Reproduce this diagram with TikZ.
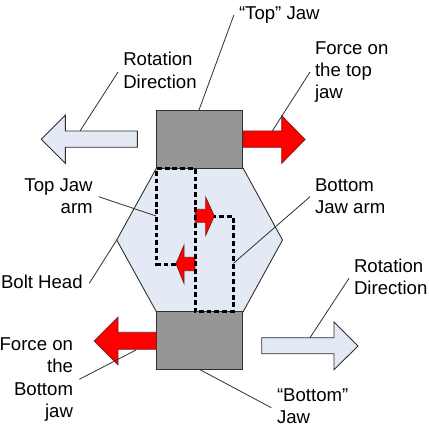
\documentclass[tikz,border=0pt]{standalone}
\usepackage{fontspec}
\setmainfont{Liberation Sans}
\definecolor{jawgray}{HTML}{969696}
\definecolor{paleblue}{HTML}{E3EAF6}
\definecolor{edge}{HTML}{303030}
\tikzset{
  jawbox/.style={draw=edge,line width=1pt,fill=jawgray,minimum width=86.4pt,minimum height=58pt,inner sep=0pt},
  hexshape/.style={draw=edge,line width=0.9pt,fill=paleblue},
  forcearrow/.style={draw=edge!60!red,line width=0.8pt,fill=red},
  rotarrow/.style={draw=edge,line width=0.9pt,fill=paleblue},
  armline/.style={draw=black,line width=3pt,dash pattern=on 4.8pt off 2.9pt},
  leader/.style={draw=edge,line width=0.8pt},
  lab/.style={inner sep=0pt,outer sep=0pt,font=\fontsize{18.6pt}{22pt}\selectfont,anchor=base west},
  labr/.style={lab,anchor=base east}
}
\begin{document}
\begin{tikzpicture}[x=1pt,y=-1pt]
\useasboundingbox (0,0) rectangle (428,430);
\fill[white] (0,0) rectangle (428,430);
% hexagon
\draw[hexshape] (156.5,168) -- (243,168) -- (282.5,240) -- (243,312) -- (156.5,312) -- (116.7,240) -- cycle;
% jaws
\node[jawbox] (topjaw) at (199.6,139.2) {};
\node[jawbox] (botjaw) at (199.6,340.8) {};
% red arrows
\draw[forcearrow] (243,131) -- (281.7,131) -- (281.7,115.7) -- (305,139.5) -- (281.7,163.3) -- (281.7,147.3) -- (243,147.3) -- cycle;
\draw[forcearrow] (156.3,332.3) -- (118,332.3) -- (118,317.3) -- (94.3,341) -- (118,364.7) -- (118,349.3) -- (156.3,349.3) -- cycle;
\draw[forcearrow] (195,209.3) -- (205.7,209.3) -- (205.7,197.3) -- (214.3,216) -- (205.7,235.3) -- (205.7,222.3) -- (195,222.3) -- cycle;
\draw[forcearrow] (195,257.3) -- (184,257.3) -- (184,245.3) -- (176,263.7) -- (184,283.3) -- (184,270.7) -- (195,270.7) -- cycle;
% rotation arrows
\draw[rotarrow] (137.3,131) -- (65.3,131) -- (65.3,115.3) -- (41.3,139.3) -- (65.3,163.3) -- (65.3,147.3) -- (137.3,147.3) -- cycle;
\draw[rotarrow] (261.7,337.7) -- (334,337.7) -- (334,322) -- (358,346) -- (334,369.7) -- (334,353.7) -- (261.7,353.7) -- cycle;
% dashed jaw arms
\draw[armline] (176,264) -- (156.5,264) -- (156.5,168.5) -- (195,168.5) -- (195,311.5) -- (233,311.5) -- (233,216) -- (214.3,216);
% labels
\node[lab] (ltop) at (239,20) {“Top” Jaw};
\node[lab] (lrot1a) at (123.3,66) {Rotation};
\node[lab] (lrot1b) at (123.3,88.3) {Direction};
\node[lab] (lfta) at (315,55) {Force on};
\node[lab] (lftb) at (315,77) {the top};
\node[lab] (lftc) at (315,99) {jaw};
\node[labr] (ltaa) at (92.7,191) {Top Jaw};
\node[labr] (ltab) at (92.7,213) {arm};
\node[lab] (lbaa) at (315,191) {Bottom};
\node[lab] (lbab) at (315,213) {Jaw arm};
\node[labr] (lbolt) at (82.7,288) {Bolt Head};
\node[lab] (lrot2a) at (354,272) {Rotation};
\node[lab] (lrot2b) at (354,294) {Direction};
\node[labr] (lfba) at (73,350.7) {Force on};
\node[labr] (lfbb) at (73,372.7) {the};
\node[labr] (lfbc) at (73,395.3) {Bottom};
\node[labr] (lfbd) at (73,417) {jaw};
\node[lab] (lbja) at (277,401.7) {“Bottom”};
\node[lab] (lbjb) at (277,423.7) {Jaw};
% leader ends
\coordinate (c1a) at (199,110); \coordinate (c1b) at (234,14.7);
\coordinate (c2a) at (80,131); \coordinate (c2b) at (118,72);
\coordinate (c3a) at (272.3,131); \coordinate (c3b) at (310,72);
\coordinate (c4a) at (156,216); \coordinate (c4b) at (98.7,196.7);
\coordinate (c5a) at (116.7,240); \coordinate (c5b) at (89.3,283.3);
\coordinate (c6a) at (233.5,263.3); \coordinate (c6b) at (310,196.7);
\coordinate (c7a) at (310,337.7); \coordinate (c7b) at (349,278.3);
\coordinate (c8a) at (200,369.7); \coordinate (c8b) at (271.3,407.7);
\coordinate (c9a) at (136,350); \coordinate (c9b) at (79.3,379.3);
\foreach \n in {1,...,9} \draw[leader] (c\n a) -- (c\n b);
\end{tikzpicture}
\end{document}
